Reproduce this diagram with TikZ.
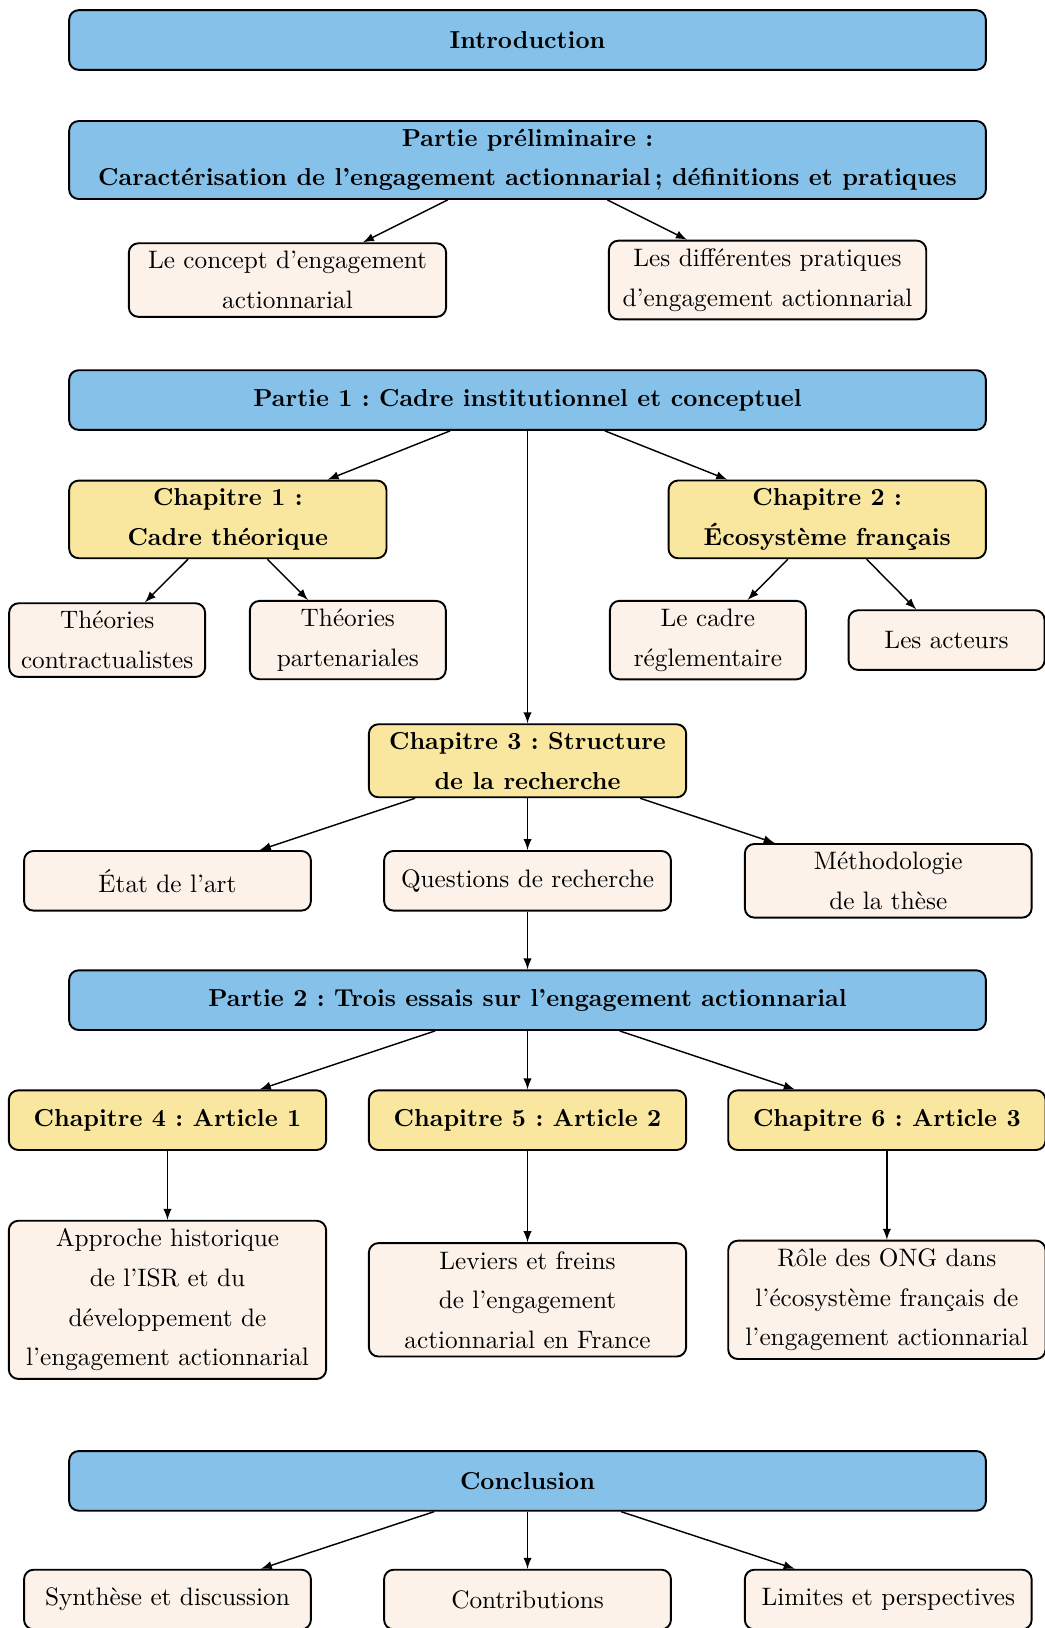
\documentclass[tikz,border=0pt]{standalone}
\usepackage{fontspec}
\frenchspacing
\definecolor{partblue}{HTML}{85C1E9}
\definecolor{chapyellow}{HTML}{F9E79F}
\definecolor{itembeige}{HTML}{FDF2E9}

\begin{document}
\begin{tikzpicture}[>=latex,
	box/.style={draw, thick, rounded corners=4pt, align=center, minimum height=0.88cm, inner ysep=3.4pt, inner xsep=2pt, font=\fontsize{10.6pt}{16.6pt}\selectfont},
	partbox/.style={box, fill=partblue, minimum width=13.52cm, font=\fontsize{10.3pt}{16.6pt}\selectfont\bfseries},
	chapbox/.style={box, fill=chapyellow, minimum width=4.68cm, font=\fontsize{10.3pt}{16.6pt}\selectfont\bfseries},
	itembox/.style={box, fill=itembeige, minimum width=#1},
	itembox/.default=4.68cm,
	link/.style={->, semithick}]
\useasboundingbox (0,0) rectangle (15.40,-24.01);

\node[partbox] (n01) at (7.78, -0.59) {Introduction};

\node[partbox] (n11) at (7.78, -2.36) {Partie préliminaire :\\Caractérisation de l’engagement actionnarial\,; définitions et pratiques};

\node[itembox] (n21) at (4.24, -4.13) {Le concept d’engagement\\actionnarial};
\node[itembox] (n22) at (11.32, -4.13) {Les différentes pratiques\\d’engagement actionnarial};

\node[partbox] (n31) at (7.78, -5.90) {Partie 1 : Cadre institutionnel et conceptuel};

\node[chapbox] (n41) at (3.36, -7.66) {Chapitre 1 :\\Cadre théorique};
\node[chapbox] (n42) at (12.20, -7.66) {Chapitre 2 :\\Écosystème français};

\node[itembox=2.89cm] (n51) at (1.58, -9.44) {Théories\\contractualistes};
\node[itembox=2.89cm] (n52) at (5.13, -9.44) {Théories\\partenariales};
\node[itembox=2.89cm] (n53) at (10.44, -9.44) {Le cadre\\réglementaire};
\node[itembox=2.89cm] (n54) at (13.96, -9.44) {Les acteurs};

\node[chapbox] (n61) at (7.78, -11.22) {Chapitre 3 : Structure\\de la recherche};

\node[itembox=4.23cm] (n71) at (2.47, -12.99) {État de l’art};
\node[itembox=4.23cm] (n72) at (7.78, -12.99) {Questions de recherche};
\node[itembox=4.23cm] (n73) at (13.10, -12.99) {Méthodologie\\de la thèse};

\node[partbox] (n81) at (7.78, -14.75) {Partie 2 : Trois essais sur l’engagement actionnarial};

\node[chapbox] (n91) at (2.47, -16.52) {Chapitre 4 : Article 1};
\node[chapbox] (n92) at (7.78, -16.52) {Chapitre 5 : Article 2};
\node[chapbox] (n93) at (13.08, -16.52) {Chapitre 6 : Article 3};

\node[itembox] (n101) at (2.47, -19.17) {Approche historique\\de l’ISR et du\\développement de\\l’engagement actionnarial};
\node[itembox] (n102) at (7.78, -19.17) {Leviers et freins\\de l’engagement\\actionnarial en France};
\node[itembox] (n103) at (13.08, -19.17) {Rôle des ONG dans\\l’écosystème français de\\l’engagement actionnarial};

\node[partbox] (n111) at (7.78, -21.84) {Conclusion};

\node[itembox=4.23cm] (n121) at (2.47, -23.59) {Synthèse et discussion};
\node[itembox=4.23cm] (n122) at (7.78, -23.59) {Contributions};
\node[itembox=4.23cm] (n123) at (13.10, -23.59) {Limites et perspectives};

\draw[link] (n11) -- (n21);
\draw[link] (n11) -- (n22);

\draw[link] (n31) -- (n41);
\draw[link] (n31) -- (n42);
\draw[link] (n31) -- (n61);

\draw[link] (n41) -- (n51);
\draw[link] (n41) -- (n52);
\draw[link] (n42) -- (n53);
\draw[link] (n42) -- (n54);

\draw[link] (n61) -- (n71);
\draw[link] (n61) -- (n72);
\draw[link] (n61) -- (n73);
\draw[link] (n72) -- (n81);

\draw[link] (n81) -- (n91);
\draw[link] (n81) -- (n92);
\draw[link] (n81) -- (n93);

\draw[link] (n91) -- (n101);
\draw[link] (n92) -- (n102);
\draw[link] (n93) -- (n103);

\draw[link] (n111) -- (n121);
\draw[link] (n111) -- (n122);
\draw[link] (n111) -- (n123);
\end{tikzpicture}
\end{document}
